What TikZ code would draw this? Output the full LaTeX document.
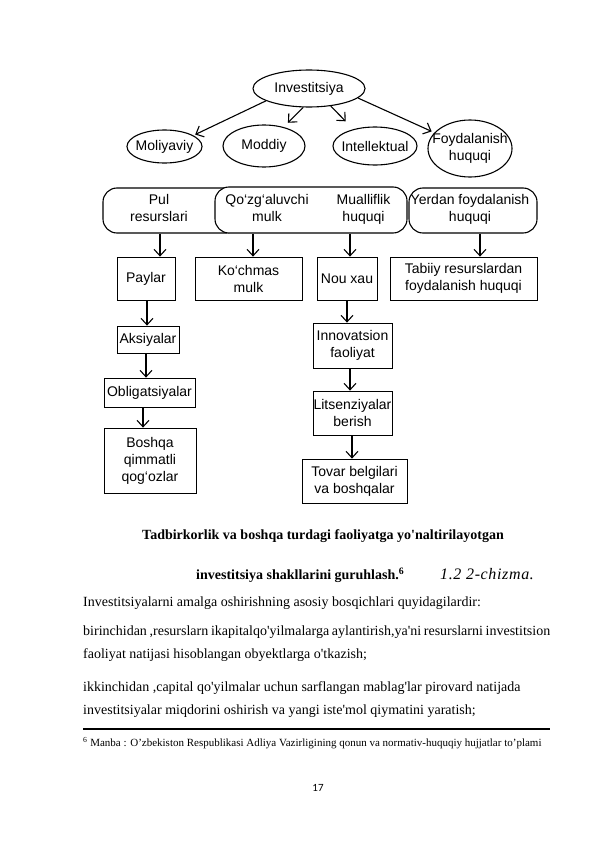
\documentclass[tikz,border=0pt]{standalone}
\usepackage{fontspec}
\setmainfont{Liberation Serif}[Ligatures=TeXOff]
\newfontfamily\dia{Liberation Sans}
\newfontfamily\pagenumfont{Carlito}
\newfontfamily\chizfont{Liberation Serif}[Ligatures=TeXOff,LetterSpace=4]
\usetikzlibrary{shapes.geometric,arrows.meta,calc}
\begin{document}
\begin{tikzpicture}[x=1pt,y=-1pt,
  ell/.style={ellipse,draw,line width=1.1pt,inner sep=0pt},
  rbox/.style={draw,rounded corners=14pt,line width=1.1pt,inner sep=0pt},
  sbox/.style={draw,line width=0.8pt,inner sep=0pt,align=center,font=\dia\fontsize{14}{17}\selectfont},
  lbl/.style={inner sep=0pt,align=center,font=\dia\fontsize{14}{17.5}\selectfont},
  arr/.style={-{Straight Barb[length=6.5pt,width=12pt]},line width=1.1pt},
  txt/.style={anchor=base west,inner sep=0pt,font=\fontsize{14}{16}\selectfont}]
\useasboundingbox (0,0) rectangle (596,843);
\fill[white] (0,0) rectangle (596,843);

% ellipses
\node[ell,minimum width=112pt,minimum height=37pt] (inv) at (309,88.5) {};
\node[lbl] (invt) at (inv) {Investitsiya};
\node[ell,minimum width=75pt,minimum height=33pt] (mol) at (164.5,146.5) {};
\node[lbl] (molt) at (mol) {Moliyaviy};
\node[ell,minimum width=82pt,minimum height=42pt] (mod) at (264,146) {};
\node[lbl] (modt) at (mod) {Moddiy};
\node[ell,minimum width=84pt,minimum height=38pt] (int) at (375,146) {};
\node[lbl] (intt) at (int) {Intellektual};
\node[ell,minimum width=84pt,minimum height=57pt] (foy) at (470,148.5) {};
\node[lbl] (foyt) at (foy) {Foydalanish\\huquqi};

\draw[arr,shorten >=2pt] (inv.196) -- (mol.21);
\draw[arr,shorten >=6pt] (inv.253) -- (mod.44);
\draw[arr,shorten >=11pt] (inv.321) -- (int.142);
\draw[arr,shorten >=3pt] (inv.349) -- (foy.156);

% rounded boxes
\node[rbox,minimum width=137pt,minimum height=45pt] (pul) at (171.5,210.5) {};
\node[rbox,fill=white,minimum width=192pt,minimum height=46pt] (qoz) at (311,210) {};
\node[rbox,minimum width=128pt,minimum height=45pt] (yer) at (473,210.5) {};
\node[lbl,anchor=north] (pult) at (159,194) {Pul\\resurslari};
\node[lbl,anchor=north] (qozt) at (267,194) {Qo‘zg‘aluvchi\\mulk};
\node[lbl,anchor=north] (mualt) at (363.5,194) {Mualliflik\\huquqi};
\node[lbl,anchor=north] (yert) at (470,194) {Yerdan foydalanish\\huquqi};

% row 3
\node[sbox,minimum width=58pt,minimum height=43pt] (pay) at (146,278.5) {Paylar};
\node[sbox,minimum width=107pt,minimum height=43pt] (koc) at (248.5,278.5) {Ko‘chmas\\mulk};
\node[sbox,minimum width=60pt,minimum height=43pt] (nou) at (347,278.5) {Nou xau};
\node[sbox,minimum width=147pt,minimum height=43pt] (tab) at (463.5,278.5) {Tabiiy resurslardan\\foydalanish huquqi};

\draw[arr] ([xshift=14pt]pay.north |- pul.south) -- ([xshift=14pt]pay.north);
\draw[arr] ([xshift=4.5pt]koc.north |- qoz.south) -- ([xshift=4.5pt]koc.north);
\draw[arr] ([xshift=3pt]nou.north |- qoz.south) -- ([xshift=3pt]nou.north);
\draw[arr] ([xshift=16.5pt]tab.north |- yer.south) -- ([xshift=16.5pt]tab.north);

% left column
\node[sbox,minimum width=62pt,minimum height=27pt] (aks) at (148,339.5) {Aksiyalar};
\node[sbox,minimum width=91pt,minimum height=29pt] (obl) at (149.5,392.5) {Obligatsiyalar};
\node[sbox,minimum width=92pt,minimum height=65pt] (bos) at (150,460.5) {Boshqa\\qimmatli\\qog‘ozlar};
\draw[arr] ([xshift=1pt]pay.south) -- ([xshift=1pt]pay.south |- aks.north);
\draw[arr] ([xshift=-2pt]aks.south) -- ([xshift=-2pt]aks.south |- obl.north);
\draw[arr] ([xshift=-6.5pt]obl.south) -- ([xshift=-6.5pt]obl.south |- bos.north);

% right column
\node[sbox,minimum width=79pt,minimum height=45pt] (inn) at (352.5,345.5) {Innovatsion\\faoliyat};
\node[sbox,minimum width=79pt,minimum height=44pt] (lit) at (352.5,413) {Litsenziyalar\\berish};
\node[sbox,minimum width=105pt,minimum height=44pt] (tov) at (354.5,481) {Tovar belgilari\\va boshqalar};
\draw[arr] (nou.south) -- (nou.south |- inn.north);
\draw[arr] ([xshift=-2.5pt]inn.south) -- ([xshift=-2.5pt]inn.south |- lit.north);
\draw[arr] ([xshift=-0.5pt]lit.south) -- ([xshift=-0.5pt]lit.south |- tov.north);

% text
\node[txt,font=\fontsize{14}{16}\selectfont\bfseries] (cap1) at (142,539.5) {Tadbirkorlik va boshqa turdagi faoliyatga yo'naltirilayotgan};
\node[txt,font=\fontsize{14}{16}\selectfont\bfseries] (cap2) at (196,579.5) {investitsiya shakllarini guruhlash.\textsuperscript{6}};
\node[txt,font=\chizfont\fontsize{16}{18}\selectfont] (chiz) at (440,579.5) {\textit{1.2 2-chizma}.};
\node[txt] (p1) at (83,606.5) {Investitsiyalarni amalga oshirishning asosiy bosqichlari quyidagilardir:};
\node[txt] (p2) at (83,635) {\makebox[467pt][s]{birinchidan ,resurslarn ikapitalqo'yilmalarga aylantirish,ya'ni resurslarni investitsion}};
\node[txt] (p3) at (83,658.5) {faoliyat natijasi hisoblangan obyektlarga o'tkazish;};
\node[txt] (p4) at (83,691.5) {ikkinchidan ,capital qo'yilmalar uchun sarflangan mablag'lar pirovard natijada};
\node[txt] (p5) at (83,714) {investitsiyalar miqdorini oshirish va yangi iste'mol qiymatini yaratish;};
\draw[line width=1.3pt] (83,729) -- (550,729);
\node[txt,font=\fontsize{11}{13}\selectfont] (fn) at (83,746) {\textsuperscript{6} Manba : O’zbekiston Respublikasi Adliya Vazirligining qonun va normativ-huquqiy hujjatlar to’plami};
\node[anchor=base,inner sep=0pt,font=\pagenumfont\fontsize{11}{13}\selectfont] (pg) at (318,791) {17};
\end{tikzpicture}
\end{document}
